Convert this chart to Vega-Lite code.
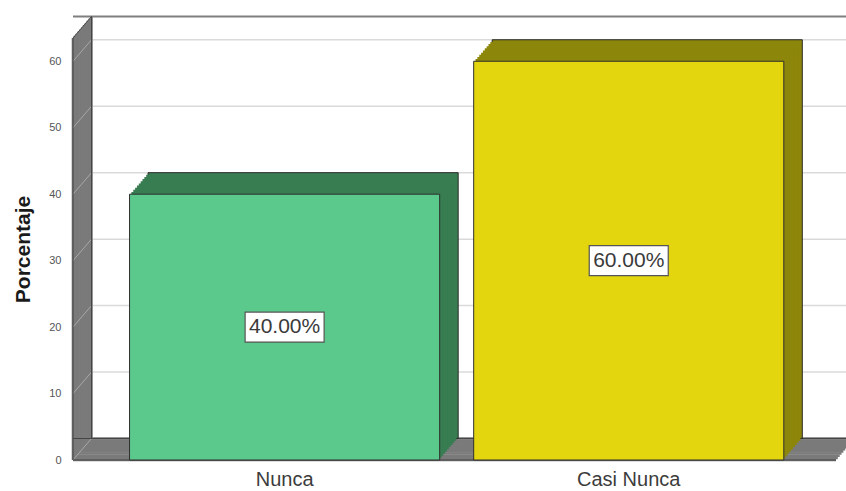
{
  "$schema": "https://vega.github.io/schema/vega-lite/v6.json",
  "width": 763,
  "height": 422,
  "autosize": "none",
  "padding": {"left": 73, "top": 38, "right": 10, "bottom": 31},
  "background": "white",
  "config": {
    "view": {"stroke": null},
    "axisX": {"domain": false, "ticks": false, "grid": false, "labelFont": "Liberation Sans", "labelFontSize": 20, "labelColor": "#3c3c3c", "labelPadding": 9, "labelAngle": 0},
    "axisY": {"domain": false, "ticks": false, "grid": false, "labelFont": "Liberation Sans", "labelFontSize": 11, "labelColor": "#555555", "labelPadding": 12, "titleFont": "Liberation Sans", "titleFontSize": 21, "titleFontWeight": "bold", "titleColor": "#1a1a1a", "titlePadding": 15}
  },
  "datasets": {
    "barras": [
      {"categoria": "Nunca", "porcentaje": 40, "etiqueta": "40.00%"},
      {"categoria": "Casi Nunca", "porcentaje": 60, "etiqueta": "60.00%"}
    ],
    "marcas": [{"v": 0}, {"v": 10}, {"v": 20}, {"v": 30}, {"v": 40}, {"v": 50}, {"v": 60}],
    "marco": [{}]
  },
  "data": {"name": "barras"},
  "resolve": {"scale": {"y": "independent"}},
  "layer": [
    {
      "layer": [
        {
          "data": {"name": "marcas"},
          "mark": {"type": "rule", "stroke": "#dadada", "strokeWidth": 1.5, "xOffset": 18.5, "x2Offset": 18.5, "yOffset": -21.5},
          "encoding": {"y": {"field": "v", "type": "quantitative", "title": "Porcentaje", "scale": {"domain": [0, 63.5], "nice": false}}}
        },
        {
          "data": {"name": "marco"},
          "mark": {"type": "rule", "stroke": "#7f7f7f", "strokeWidth": 2, "xOffset": 18.5, "x2Offset": 18.5, "yOffset": -21.5},
          "encoding": {"y": {"datum": 63.5, "type": "quantitative", "title": "Porcentaje", "scale": {"domain": [0, 63.5], "nice": false}}}
        },
        {
          "data": {"name": "marco"},
          "encoding": {"y": {"datum": 0, "type": "quantitative", "title": "Porcentaje", "scale": {"domain": [0, 63.5], "nice": false}}},
          "layer": [
            {"mark": {"type": "rule", "stroke": "#7a7a7a", "strokeWidth": 2.6}},
            {"mark": {"type": "rule", "stroke": "#7a7a7a", "strokeWidth": 2.6, "xOffset": 1.85, "x2Offset": 1.85, "yOffset": -2.15}},
            {"mark": {"type": "rule", "stroke": "#7a7a7a", "strokeWidth": 2.6, "xOffset": 3.7, "x2Offset": 3.7, "yOffset": -4.3}},
            {"mark": {"type": "rule", "stroke": "#7a7a7a", "strokeWidth": 2.6, "xOffset": 5.55, "x2Offset": 5.55, "yOffset": -6.45}},
            {"mark": {"type": "rule", "stroke": "#7a7a7a", "strokeWidth": 2.6, "xOffset": 7.4, "x2Offset": 7.4, "yOffset": -8.6}},
            {"mark": {"type": "rule", "stroke": "#7a7a7a", "strokeWidth": 2.6, "xOffset": 9.25, "x2Offset": 9.25, "yOffset": -10.75}},
            {"mark": {"type": "rule", "stroke": "#7a7a7a", "strokeWidth": 2.6, "xOffset": 11.1, "x2Offset": 11.1, "yOffset": -12.9}},
            {"mark": {"type": "rule", "stroke": "#7a7a7a", "strokeWidth": 2.6, "xOffset": 12.95, "x2Offset": 12.95, "yOffset": -15.05}},
            {"mark": {"type": "rule", "stroke": "#7a7a7a", "strokeWidth": 2.6, "xOffset": 14.8, "x2Offset": 14.8, "yOffset": -17.2}},
            {"mark": {"type": "rule", "stroke": "#7a7a7a", "strokeWidth": 2.6, "xOffset": 16.65, "x2Offset": 16.65, "yOffset": -19.35}},
            {"mark": {"type": "rule", "stroke": "#7a7a7a", "strokeWidth": 2.6, "xOffset": 18.5, "x2Offset": 18.5, "yOffset": -21.5}}
          ]
        },
        {
          "data": {"name": "marco"},
          "encoding": {
            "x": {"value": 0},
            "y": {"datum": 0, "type": "quantitative", "title": "Porcentaje", "scale": {"domain": [0, 63.5], "nice": false}},
            "y2": {"datum": 63.5}
          },
          "layer": [
            {"mark": {"type": "rule", "stroke": "#7a7a7a", "strokeWidth": 2.6}},
            {"mark": {"type": "rule", "stroke": "#7a7a7a", "strokeWidth": 2.6, "xOffset": 1.85, "yOffset": -2.15, "y2Offset": -2.15}},
            {"mark": {"type": "rule", "stroke": "#7a7a7a", "strokeWidth": 2.6, "xOffset": 3.7, "yOffset": -4.3, "y2Offset": -4.3}},
            {"mark": {"type": "rule", "stroke": "#7a7a7a", "strokeWidth": 2.6, "xOffset": 5.55, "yOffset": -6.45, "y2Offset": -6.45}},
            {"mark": {"type": "rule", "stroke": "#7a7a7a", "strokeWidth": 2.6, "xOffset": 7.4, "yOffset": -8.6, "y2Offset": -8.6}},
            {"mark": {"type": "rule", "stroke": "#7a7a7a", "strokeWidth": 2.6, "xOffset": 9.25, "yOffset": -10.75, "y2Offset": -10.75}},
            {"mark": {"type": "rule", "stroke": "#7a7a7a", "strokeWidth": 2.6, "xOffset": 11.1, "yOffset": -12.9, "y2Offset": -12.9}},
            {"mark": {"type": "rule", "stroke": "#7a7a7a", "strokeWidth": 2.6, "xOffset": 12.95, "yOffset": -15.05, "y2Offset": -15.05}},
            {"mark": {"type": "rule", "stroke": "#7a7a7a", "strokeWidth": 2.6, "xOffset": 14.8, "yOffset": -17.2, "y2Offset": -17.2}},
            {"mark": {"type": "rule", "stroke": "#7a7a7a", "strokeWidth": 2.6, "xOffset": 16.65, "yOffset": -19.35, "y2Offset": -19.35}},
            {"mark": {"type": "rule", "stroke": "#7a7a7a", "strokeWidth": 2.6, "xOffset": 18.5, "yOffset": -21.5, "y2Offset": -21.5}}
          ]
        },
        {
          "data": {"name": "marcas"},
          "mark": {"type": "rule", "stroke": "#a8a8a8", "strokeWidth": 1, "x2Offset": 18.5, "y2Offset": -21.5},
          "encoding": {
            "x": {"value": 0},
            "x2": {"value": 0},
            "y": {"field": "v", "type": "quantitative", "title": "Porcentaje", "scale": {"domain": [0, 63.5], "nice": false}},
            "y2": {"field": "v"}
          }
        },
        {
          "data": {"name": "marco"},
          "layer": [
            {
              "mark": {"type": "rule", "stroke": "#454545", "strokeWidth": 1},
              "encoding": {
                "x": {"value": 0},
                "y": {"datum": 0, "type": "quantitative", "title": "Porcentaje", "scale": {"domain": [0, 63.5], "nice": false}},
                "y2": {"datum": 63.5}
              }
            },
            {
              "mark": {"type": "rule", "stroke": "#454545", "strokeWidth": 1, "xOffset": 18.5, "yOffset": -21.5, "y2Offset": -21.5},
              "encoding": {
                "x": {"value": 0},
                "y": {"datum": 0, "type": "quantitative", "title": "Porcentaje", "scale": {"domain": [0, 63.5], "nice": false}},
                "y2": {"datum": 63.5}
              }
            },
            {
              "mark": {"type": "rule", "stroke": "#454545", "strokeWidth": 1, "x2Offset": 18.5, "y2Offset": -21.5},
              "encoding": {
                "x": {"value": 0},
                "x2": {"value": 0},
                "y": {"datum": 63.5, "type": "quantitative", "title": "Porcentaje", "scale": {"domain": [0, 63.5], "nice": false}},
                "y2": {"datum": 63.5}
              }
            },
            {
              "mark": {"type": "rule", "stroke": "#454545", "strokeWidth": 1.2},
              "encoding": {"y": {"datum": 0, "type": "quantitative", "title": "Porcentaje", "scale": {"domain": [0, 63.5], "nice": false}}}
            },
            {
              "mark": {"type": "rule", "stroke": "#454545", "strokeWidth": 1, "xOffset": 18.5, "x2Offset": 18.5, "yOffset": -21.5},
              "encoding": {"y": {"datum": 0, "type": "quantitative", "title": "Porcentaje", "scale": {"domain": [0, 63.5], "nice": false}}}
            }
          ]
        },
        {
          "encoding": {
            "x": {"field": "categoria", "type": "nominal", "title": null, "scale": {"type": "band", "domain": ["Nunca", "Casi Nunca"], "paddingInner": 0.0988, "paddingOuter": 0.158, "align": 0.52}},
            "y": {"field": "porcentaje", "type": "quantitative", "title": "Porcentaje", "scale": {"domain": [0, 63.5], "nice": false}},
            "y2": {"datum": 0},
            "fill": {"field": "categoria", "type": "nominal", "scale": {"domain": ["Nunca", "Casi Nunca"], "range": ["#387d52", "#8c860b"]}, "legend": null}
          },
          "layer": [
            {"mark": {"type": "bar", "stroke": "#2a2a2a", "strokeWidth": 1, "xOffset": 18.5, "x2Offset": 18.5, "yOffset": -21.5, "y2Offset": -21.5}},
            {"mark": {"type": "bar", "xOffset": 16.65, "x2Offset": 16.65, "yOffset": -19.35, "y2Offset": -19.35}},
            {"mark": {"type": "bar", "xOffset": 14.8, "x2Offset": 14.8, "yOffset": -17.2, "y2Offset": -17.2}},
            {"mark": {"type": "bar", "xOffset": 12.95, "x2Offset": 12.95, "yOffset": -15.05, "y2Offset": -15.05}},
            {"mark": {"type": "bar", "xOffset": 11.1, "x2Offset": 11.1, "yOffset": -12.9, "y2Offset": -12.9}},
            {"mark": {"type": "bar", "xOffset": 9.25, "x2Offset": 9.25, "yOffset": -10.75, "y2Offset": -10.75}},
            {"mark": {"type": "bar", "xOffset": 7.4, "x2Offset": 7.4, "yOffset": -8.6, "y2Offset": -8.6}},
            {"mark": {"type": "bar", "xOffset": 5.55, "x2Offset": 5.55, "yOffset": -6.45, "y2Offset": -6.45}},
            {"mark": {"type": "bar", "xOffset": 3.7, "x2Offset": 3.7, "yOffset": -4.3, "y2Offset": -4.3}},
            {"mark": {"type": "bar", "xOffset": 1.85, "x2Offset": 1.85, "yOffset": -2.15, "y2Offset": -2.15}}
          ]
        },
        {
          "mark": {"type": "bar", "stroke": "#2e2e2e", "strokeWidth": 1},
          "encoding": {
            "x": {"field": "categoria", "type": "nominal", "title": null, "scale": {"type": "band", "domain": ["Nunca", "Casi Nunca"], "paddingInner": 0.0988, "paddingOuter": 0.158, "align": 0.52}},
            "y": {"field": "porcentaje", "type": "quantitative", "title": "Porcentaje", "scale": {"domain": [0, 63.5], "nice": false}, "axis": {"values": [0, 10, 20, 30, 40, 50, 60]}},
            "y2": {"datum": 0},
            "color": {"field": "categoria", "type": "nominal", "scale": {"domain": ["Nunca", "Casi Nunca"], "range": ["#5bc98c", "#e3d60e"]}, "legend": null}
          }
        }
      ]
    },
    {
      "encoding": {
        "x": {"field": "categoria", "type": "nominal", "title": null, "scale": {"type": "band", "domain": ["Nunca", "Casi Nunca"], "paddingInner": 0.0988, "paddingOuter": 0.158, "align": 0.52}},
        "y": {"field": "porcentaje", "type": "quantitative", "scale": {"domain": [0, 127], "nice": false}, "axis": null}
      },
      "layer": [
        {"mark": {"type": "point", "shape": "M-1,-0.38L1,-0.38L1,0.38L-1,0.38Z", "size": 6241, "filled": true, "fill": "white", "stroke": "#555555", "strokeWidth": 1.2, "opacity": 1}},
        {"mark": {"type": "text", "font": "Liberation Sans", "fontSize": 21, "color": "#3a3a3a", "align": "center", "baseline": "middle"}, "encoding": {"text": {"field": "etiqueta"}}}
      ]
    }
  ]
}
